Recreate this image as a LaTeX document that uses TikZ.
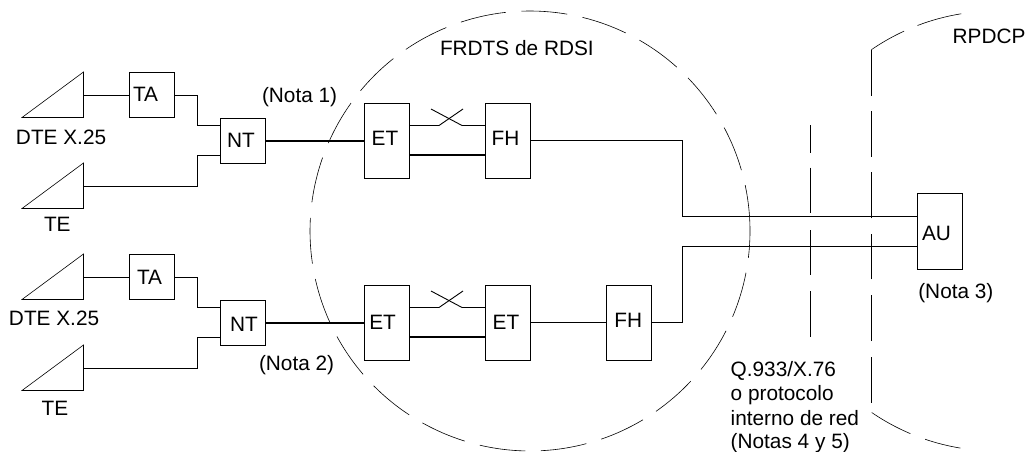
\documentclass[tikz,border=0pt]{standalone}
\usepackage{fontspec}
\setmainfont{Liberation Sans}
\begin{document}
\begin{tikzpicture}[x=1pt,y=-1pt,
  bx/.style={draw,line width=.9pt,outer sep=0pt,inner sep=0pt,minimum width=45pt},
  sq/.style={bx,minimum height=45.5pt},
  tall/.style={bx,minimum height=75.5pt},
  conn/.style={line width=.9pt},
  thick link/.style={line width=1.9pt},
  fine/.style={line width=.6pt},
  txt/.style={anchor=base west,inner sep=0pt,outer sep=0pt,font=\fontsize{20.8pt}{25pt}\selectfont}]
\useasboundingbox (0,0) rectangle (1026,452);
% terminals (triangles)
\coordinate (dte1) at (83.5,95);
\coordinate (te1) at (83.5,186);
\coordinate (dte2) at (83.5,277);
\coordinate (te2) at (83.5,368);
\foreach \t in {dte1,te1,dte2,te2}
  \draw[fine] (\t) ++(0,-23) -- ++(0,45.5) -- ++(-61.5,0) -- cycle;
% boxes
\node[sq] (ta1) at (151.5,95) {};
\node[sq] (nt1) at (242.5,140.7) {};
\node[tall] (et1) at (386.5,140.7) {};
\node[tall] (fh1) at (507.5,140.7) {};
\node[sq] (ta2) at (151.5,277) {};
\node[sq] (nt2) at (242.5,322.8) {};
\node[tall] (et2) at (386.5,322.8) {};
\node[tall] (et3) at (507.5,322.8) {};
\node[tall] (fh2) at (628.5,322.8) {};
\node[tall] (au) at (939.5,231.2) {};
% connector end points on the boxes
\coordinate (nt1a) at (220,125.5);
\coordinate (nt1b) at (220,155.5);
\coordinate (nt2a) at (220,307.5);
\coordinate (nt2b) at (220,337.5);
\coordinate (et1a) at (409,125.5);
\coordinate (fh1a) at (485,125.5);
\coordinate (et1b) at (409,155);
\coordinate (fh1b) at (485,155);
\coordinate (et2a) at (409,307.5);
\coordinate (et3a) at (485,307.5);
\coordinate (et2b) at (409,337);
\coordinate (et3b) at (485,337);
\coordinate (aua) at (917,216);
\coordinate (aub) at (917,246);
% connectors
\draw[conn] (dte1) -- (ta1.west);
\draw[conn] (ta1.east) -- (197,95) |- (nt1a);
\draw[conn] (te1) -- (197,186) |- (nt1b);
\draw[thick link] (nt1.east) -- (et1.west);
\draw[conn] (dte2) -- (ta2.west);
\draw[conn] (ta2.east) -- (197,277) |- (nt2a);
\draw[conn] (te2) -- (197,368) |- (nt2b);
\draw[thick link] (nt2.east) -- (et2.west);
\draw[conn] (et1a) -- (439,125.5) -- (463,109);
\draw[conn] (431,109) -- (462,125.5) -- (fh1a);
\draw[thick link] (et1b) -- (fh1b);
\draw[conn] (et2a) -- (439,307.5) -- (463,291);
\draw[conn] (431,291) -- (462,307.5) -- (et3a);
\draw[thick link] (et2b) -- (et3b);
\draw[conn] (et3.east) -- (fh2.west);
\draw[conn] (fh1.east) -- (682,140.7) |- (aua);
\draw[conn] (fh2.east) -- (682,322.8) |- (aub);
% FRDTS boundary
\foreach \k in {1,...,21}
  \draw[fine] (530,231) ++({-16.05*\k}:220) arc ({-16.05*\k}:{-16.05*\k-12}:220);
\draw[fine] (530,231) ++(-353:220) arc (-353:-372:220);
% RPDCP boundary
\draw[fine] (871.3,402.7) -- (871.3,357) (871.3,341) -- (871.3,295)
  (871.3,279.3) -- (871.3,234.3) (871.3,218.3) -- (871.3,172.3)
  (871.3,156.7) -- (871.3,111) (871.3,95.7) -- (871.3,50);
\draw[fine] (996,231) ++(-124.5:220) arc (-124.5:-114.7:220);
\draw[fine] (996,231) ++(-110.9:220) arc (-110.9:-99.1:220);
\draw[fine] (996,231) ++(124.4:220) arc (124.4:112.9:220);
\draw[fine] (996,231) ++(108.8:220) arc (108.8:99.3:220);
% interface line
\draw[fine] (810.7,125.3) -- (810.7,152.7) (810.7,167.7) -- (810.7,213.3)
  (810.7,230) -- (810.7,275.3) (810.7,291) -- (810.7,336.7);
% labels
\node[txt] (ltop) at (16,144) {DTE X.25};
\node[txt] (lbot) at (9,325) {DTE X.25};
\node[txt] (lte1) at (44,231) {TE};
\node[txt] (lte2) at (41.7,415) {TE};
\node[txt] (lta1) at (133,101) {TA};
\node[txt] (lta2) at (137,284) {TA};
\node[txt] (lnt1) at (227,147) {NT};
\node[txt] (lnt2) at (230,331.7) {NT};
\node[txt] (n1) at (262,102.7) {(Nota 1)};
\node[txt] (n2) at (259,370) {(Nota 2)};
\node[txt] (let1) at (371.7,145) {ET};
\node[txt] (lfh1) at (491.7,145) {FH};
\node[txt] (let2) at (369.3,329) {ET};
\node[txt] (let3) at (492.7,329) {ET};
\node[txt] (lfh2) at (614.3,327.7) {FH};
\node[txt] (frdts) at (440,55.7) {FRDTS de RDSI};
\node[txt] (rpdcp) at (952.7,44) {RPDCP};
\node[txt] (lau) at (922,240) {AU};
\node[txt] (n3) at (918.3,298.7) {(Nota 3)};
\node[txt] (q1) at (730.7,376) {Q.933/X.76};
\node[txt] (q2) at (730.7,400) {o protocolo};
\node[txt] (q3) at (730.7,425) {interno de red};
\node[txt] (q4) at (730.7,448.7) {(Notas 4 y 5)};
\end{tikzpicture}
\end{document}
